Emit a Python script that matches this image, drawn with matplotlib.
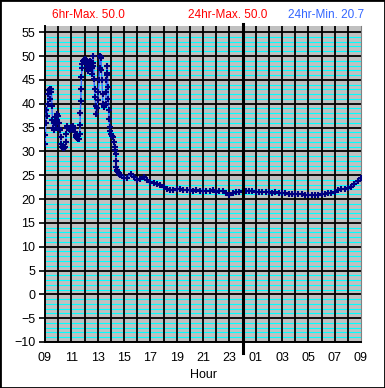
import matplotlib
matplotlib.use('Agg')
import matplotlib.pyplot as plt
from matplotlib.patches import Rectangle

plt.rcParams['font.family'] = ['Liberation Sans', 'DejaVu Sans']

# hours since 09:00 and temperature readings
hours = [0.00, 0.03, 0.06, 0.10, 0.15, 0.20, 0.25, 0.30, 0.35, 0.40, 0.45, 0.49,
         0.53, 0.56, 0.60, 0.66, 0.72, 0.78, 0.83, 0.88, 0.94, 0.99, 1.04, 1.08,
         1.12, 1.18, 1.24, 1.30, 1.36, 1.42, 1.48, 1.52, 1.57, 1.62, 1.66, 1.70,
         1.75, 1.80, 1.88, 1.94, 2.00, 2.06, 2.13, 2.20, 2.26, 2.32, 2.38, 2.45,
         2.50, 2.56, 2.63, 2.66, 2.69, 2.71, 2.74, 2.77, 2.80, 2.84, 2.90, 2.94,
         3.00, 3.05, 3.09, 3.14, 3.19, 3.25, 3.30, 3.35, 3.39, 3.44, 3.49, 3.55,
         3.60, 3.63, 3.65, 3.68, 3.72, 3.76, 3.80, 3.85, 3.90, 3.95, 4.00, 4.05,
         4.10, 4.14, 4.18, 4.22, 4.25, 4.29, 4.33, 4.37, 4.40, 4.45, 4.51, 4.56,
         4.61, 4.64, 4.66, 4.69, 4.71, 4.74, 4.78, 4.81, 4.84, 4.88, 4.91, 4.96,
         5.01, 5.08, 5.16, 5.22, 5.29, 5.33, 5.37, 5.40, 5.42, 5.46, 5.50, 5.54,
         5.60, 5.67,
         5.75, 6.00, 6.25, 6.50, 6.75, 7.00, 7.25, 7.50, 7.75, 8.00, 8.25, 8.50,
         8.75, 9.00, 9.25, 9.50, 9.75, 10.00, 10.25, 10.50, 10.75, 11.00, 11.25,
         11.50, 11.75, 12.00, 12.25, 12.50, 12.75, 13.00, 13.25, 13.50, 13.75,
         14.00, 14.25, 14.50, 14.75, 15.00, 15.25, 15.50, 15.75, 16.00, 16.25,
         16.50, 16.75, 17.00, 17.25, 17.50, 17.75, 18.00, 18.25, 18.50, 18.75,
         19.00, 19.25, 19.50, 19.75, 20.00, 20.25, 20.50, 20.75, 21.00, 21.25,
         21.50, 21.75, 22.00, 22.25, 22.50, 22.75, 23.00, 23.25, 23.50, 23.75,
         24.00]
temps = [31.6, 33.5, 36.0, 38.6, 37.5, 40.0, 42.0, 42.8, 41.0, 43.1, 42.5, 43.0,
         39.5, 36.5, 35.0, 34.4, 36.0, 37.2, 35.8, 36.5, 37.9, 37.5, 36.0, 35.0,
         34.4, 33.0, 31.6, 31.0, 30.7, 30.6, 30.8, 30.9, 32.0, 33.7, 34.8, 35.4,
         35.0, 34.6, 34.4, 34.9, 35.1, 34.6, 35.4, 34.8, 34.0, 33.4, 33.0, 32.7,
         32.6, 32.6, 33.7, 35.5, 38.0, 40.5, 43.0, 45.5, 47.5, 48.4, 49.0, 49.2,
         49.0, 49.3, 49.2, 48.5, 47.7, 46.8, 47.0, 47.8, 48.4, 48.9, 48.7, 47.5,
         46.3, 48.5, 50.0, 48.0, 45.2, 43.0, 41.4, 39.5, 37.9, 39.0, 40.7, 42.5,
         44.9, 47.5, 50.0, 49.8, 49.5, 47.0, 44.9, 42.0, 40.0, 39.5, 39.3, 39.8,
         40.0, 42.5, 44.9, 46.5, 48.0, 46.0, 43.5, 41.0, 38.6, 36.8, 35.1, 34.2,
         33.7, 33.3, 33.0, 32.0, 30.9, 30.2, 29.5, 28.0, 26.7, 26.0, 25.8, 25.6,
         25.3, 25.1,
         25.0, 24.4, 24.5, 25.3, 24.6, 23.9, 24.1, 24.6, 24.0, 23.6, 23.3, 23.1,
         22.9, 22.6, 22.2, 21.8, 21.9, 22.1, 22.0, 21.8, 21.8, 21.8, 21.7,
         21.8, 21.7, 21.7, 21.7, 21.6, 21.8, 21.5, 21.6, 21.7, 21.2,
         20.9, 21.3, 21.5, 21.4, 21.6, 21.6, 21.7, 21.6, 21.5, 21.5,
         21.4, 21.4, 21.4, 21.3, 21.4, 21.3, 21.2, 21.2, 21.1, 21.1,
         21.1, 21.0, 21.0, 20.9, 20.9, 20.8, 20.9, 20.9, 21.0, 21.1,
         21.2, 21.3, 21.5, 21.8, 22.0, 22.1, 22.3, 22.6, 23.1, 23.8,
         24.5]

hour_labels = ['09', '11', '13', '15', '17', '19', '21', '23', '01', '03', '05', '07', '09']
headers = ['6hr-Max. 50.0', '24hr-Max. 50.0', '24hr-Min. 20.7']

W, H = 385, 388
fig = plt.figure(figsize=(W / 100, H / 100), dpi=100)
ax = fig.add_axes([45 / W, 1 - 342 / H, 316 / W, 316 / H])
ax.set_facecolor('#C0C0C0')

ax.set_xlim(0, 24)
ax.set_ylim(-10, 56.3)
ax.set_xticks(range(0, 25, 2))
ax.set_xticklabels(hour_labels)
ax.set_yticks(range(-10, 56, 5))

# grid: cyan every degree under black every 5 degrees / every hour
for v in range(-10, 56):
    if v % 5:
        ax.axhline(v, color='#00FFFF', lw=0.8, zorder=0.5)
for v in range(-10, 56, 5):
    ax.axhline(v, color='black', lw=1.3, zorder=1)
for h in range(1, 24):
    ax.axvline(h, color='black', lw=1.3, zorder=1)

ax.tick_params(axis='x', length=0, pad=7, labelsize=9)
ax.tick_params(axis='y', length=4, width=1.2, pad=3, labelsize=9)

ax.spines['top'].set_visible(False)
ax.spines['right'].set_color('#808080')
ax.spines['left'].set_linewidth(1.4)
ax.spines['bottom'].set_linewidth(1.4)

ax.plot(hours, temps, color='#3366FF', lw=1.0, marker='+', ms=5,
        mec='#000080', mew=1.5, zorder=3)

# midnight marker
ax.axvline(15, ymin=-0.035, ymax=1.006, color='black', lw=2.2, clip_on=False, zorder=4)

ax.set_xlabel('Hour', fontsize=9, labelpad=4)

fig.text(88 / W, 1 - 15.5 / H, headers[0], color='red', fontsize=8.5, ha='center', va='center')
fig.text(228 / W, 1 - 15.5 / H, headers[1], color='red', fontsize=8.5, ha='center', va='center')
fig.text(326 / W, 1 - 15.5 / H, headers[2], color='#3366FF', fontsize=8.5, ha='center', va='center')

fig.patches.append(Rectangle((0, 0), 1, 1, transform=fig.transFigure, fill=False,
                             edgecolor='black', lw=2))

fig.savefig('out.png', dpi=100)
